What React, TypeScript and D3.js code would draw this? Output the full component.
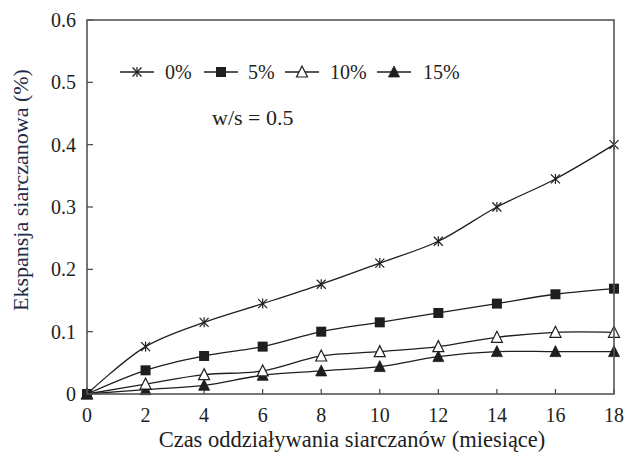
import React from "react";
import * as d3 from "d3";

const months = [0, 2, 4, 6, 8, 10, 12, 14, 16, 18];
const s0 = [0, 0.076, 0.115, 0.145, 0.176, 0.21, 0.245, 0.3, 0.345, 0.4];
const s5 = [0, 0.038, 0.061, 0.076, 0.1, 0.115, 0.13, 0.145, 0.16, 0.169];
const s10 = [0, 0.016, 0.031, 0.037, 0.061, 0.068, 0.076, 0.091, 0.099, 0.099];
const s15 = [0, 0.007, 0.014, 0.03, 0.037, 0.044, 0.06, 0.068, 0.068, 0.068];
const seriesNames = ["0%", "5%", "10%", "15%"];
const markerTypes = ["star", "square", "triOpen", "triFilled"];
const xTicks = [0, 2, 4, 6, 8, 10, 12, 14, 16, 18];
const yTicks = [0, 0.1, 0.2, 0.3, 0.4, 0.5, 0.6];
const yTickLabels = ["0", "0.1", "0.2", "0.3", "0.4", "0.5", "0.6"];

const W = 626, H = 457;
const L = 87, R = 614, T = 20, B = 394;
const INK = "#1e1e1e";

function Marker({ type, x, y }: { type: string; x: number; y: number }) {
  if (type === "star") {
    const r = 4.5;
    return (
      <g stroke={INK} strokeWidth={1.2}>
        <line x1={x - r} y1={y - r} x2={x + r} y2={y + r} />
        <line x1={x - r} y1={y + r} x2={x + r} y2={y - r} />
        <line x1={x} y1={y - r - 0.5} x2={x} y2={y + r + 0.5} />
      </g>
    );
  }
  if (type === "square") {
    const s = 10;
    return <rect x={x - s / 2} y={y - s / 2} width={s} height={s} fill={INK} />;
  }
  const h = 10, w = 11;
  const pts = `${x},${y - h / 2 - 1} ${x - w / 2},${y + h / 2} ${x + w / 2},${y + h / 2}`;
  if (type === "triOpen") {
    return <polygon points={pts} fill="#fff" stroke={INK} strokeWidth={1.2} />;
  }
  return <polygon points={pts} fill={INK} stroke={INK} strokeWidth={0.8} />;
}

export default function App() {
  const x = d3.scaleLinear().domain([0, 18]).range([L, R]);
  const y = d3.scaleLinear().domain([0, 0.6]).range([B, T]);
  const all = [s0, s5, s10, s15];
  const line = d3
    .line<number>()
    .x((_, i) => x(months[i]))
    .y((d) => y(d))
    .curve(d3.curveCatmullRom.alpha(0.5));

  const legendItems = [
    { lx: 120, tx: 165 },
    { lx: 204, tx: 248 },
    { lx: 285, tx: 330 },
    { lx: 377, tx: 423 },
  ];
  const legY = 72;

  return (
    <svg
      className="chart"
      width={W}
      height={H}
      style={{ position: "absolute", left: 0, top: 0, background: "#fff" }}
    >
      <style>{`.chart text { font-family: "Liberation Serif", serif; }`}</style>
      <rect x={0} y={0} width={W} height={H} fill="#fff" />
      {xTicks.map((t) => (
        <line key={"xt" + t} x1={x(t)} x2={x(t)} y1={B} y2={B - 5} stroke="#444" strokeWidth={1.2} />
      ))}
      {yTicks.map((t) => (
        <line key={"yt" + t} x1={L} x2={L + 6} y1={y(t)} y2={y(t)} stroke="#444" strokeWidth={1.2} />
      ))}
      {all.map((s, k) => (
        <path key={"l" + k} d={line(s) || ""} fill="none" stroke={INK} strokeWidth={1.3} />
      ))}
      {[3, 2, 0, 1].map((k) =>
        all[k].map((v, i) => (
          <Marker key={"m" + k + "-" + i} type={markerTypes[k]} x={x(months[i])} y={y(v)} />
        ))
      )}
      <rect x={L} y={T} width={R - L} height={B - T} fill="none" stroke="#555" strokeWidth={1.6} />
      {xTicks.map((t) => (
        <text key={"xl" + t} x={x(t)} y={422} textAnchor="middle" fontSize={20} fill={INK}>
          {t}
        </text>
      ))}
      {yTicks.map((t, i) => (
        <text key={"yl" + t} x={76} y={y(t) + 7} textAnchor="end" fontSize={20} fill={INK}>
          {yTickLabels[i]}
        </text>
      ))}
      <text x={352} y={447} textAnchor="middle" fontSize={22.5} fill={INK}>
        Czas oddziaływania siarczanów (miesiące)
      </text>
      <text
        transform={`translate(28, 190) rotate(-90)`}
        textAnchor="middle"
        fontSize={22}
        fill="#1f2a48"
      >
        Ekspansja siarczanowa (%)
      </text>
      {legendItems.map((it, k) => (
        <g key={"lg" + k}>
          <line x1={it.lx} x2={it.lx + 34} y1={legY} y2={legY} stroke={INK} strokeWidth={1.3} />
          <Marker type={markerTypes[k]} x={it.lx + 17} y={legY} />
          <text x={it.tx} y={legY + 7} fontSize={20} fill={INK}>
            {seriesNames[k]}
          </text>
        </g>
      ))}
      <text x={212} y={125} fontSize={22} fill={INK}>
        w/s = 0.5
      </text>
    </svg>
  );
}
